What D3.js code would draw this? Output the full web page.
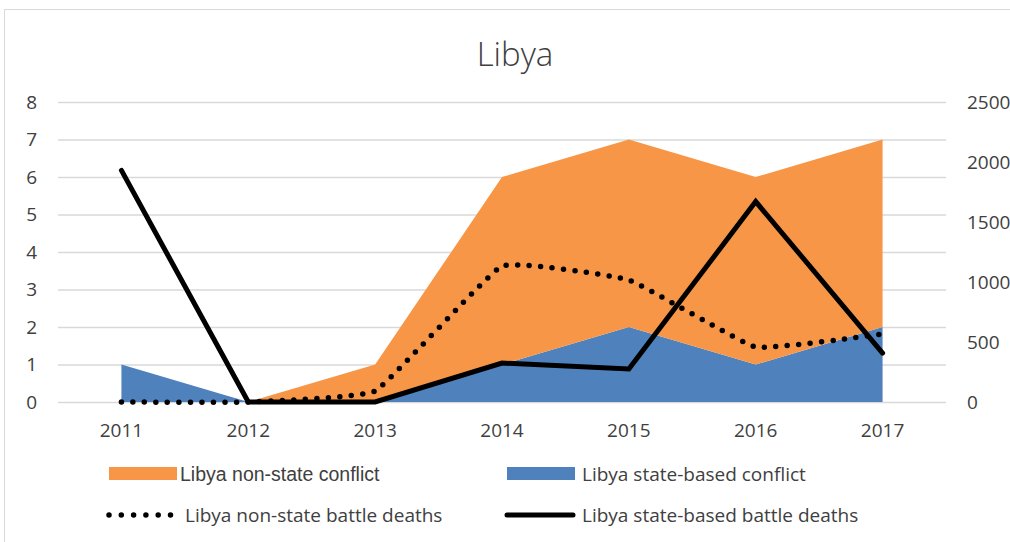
<!DOCTYPE html>
<html>
<head>
<meta charset="utf-8">
<script src="https://cdn.jsdelivr.net/npm/d3@7"></script>
<style>
  body { margin: 0; background: #fff; }
  svg text { fill: #404040; }
</style>
</head>
<body>
<div id="vis"></div>
<script>
// data
const YEARS = ["2011", "2012", "2013", "2014", "2015", "2016", "2017"];
const STATE_CONFLICT = [1, 0, 0, 1, 2, 1, 2];
const NONSTATE_CONFLICT = [0, 0, 1, 5, 5, 5, 5];
const STATE_DEATHS = [1930, 0, 0, 325, 275, 1670, 408];
const NONSTATE_DEATHS = [0, 0, 92, 1133, 1017, 458, 567];
const LEFT_TICKS = [0, 1, 2, 3, 4, 5, 6, 7, 8];
const RIGHT_TICKS = [0, 500, 1000, 1500, 2000, 2500];

const FRAME_WIDTH = 1010;
const FRAME_HEIGHT = 542;
const MARGINS = {left: 58, right: 64, top: 102, bottom: 140};
const FONT = "'Open Sans', 'Noto Sans', sans-serif";

const svg = d3.select("#vis")
  .append("svg")
    .attr("width", FRAME_WIDTH)
    .attr("height", FRAME_HEIGHT);

// chart border
svg.append("rect")
  .attr("x", 4.5).attr("y", 9.5)
  .attr("width", FRAME_WIDTH + 10).attr("height", FRAME_HEIGHT + 10)
  .attr("fill", "none").attr("stroke", "#d9d9d9");

const X_SCALE = d3.scaleBand()
  .domain(YEARS)
  .range([MARGINS.left, FRAME_WIDTH - MARGINS.right]);
const xc = (d) => X_SCALE(d) + X_SCALE.bandwidth() / 2;

const Y_LEFT = d3.scaleLinear().domain([0, 8]).range([FRAME_HEIGHT - MARGINS.bottom, MARGINS.top]);
const Y_RIGHT = d3.scaleLinear().domain([0, 2500]).range([FRAME_HEIGHT - MARGINS.bottom, MARGINS.top]);

// gridlines
svg.append("g")
  .attr("transform", "translate(" + MARGINS.left + ",0)")
  .call(d3.axisLeft(Y_LEFT).tickValues(LEFT_TICKS)
        .tickSize(-(FRAME_WIDTH - MARGINS.left - MARGINS.right)).tickFormat(""))
  .call(g => g.select(".domain").remove())
  .call(g => g.selectAll("line").attr("stroke", "#d9d9d9").attr("stroke-width", 1.3));

// stacked areas
const rows = YEARS.map((y, i) => ({year: y, state: STATE_CONFLICT[i], nonstate: NONSTATE_CONFLICT[i]}));
const stacked = d3.stack().keys(["state", "nonstate"])(rows);
const COLORS = {state: "#4f81bd", nonstate: "#f79646"};
const area = d3.area()
  .x(d => xc(d.data.year))
  .y0(d => Y_LEFT(d[0]))
  .y1(d => Y_LEFT(d[1]));

svg.selectAll(".area")
  .data(stacked)
  .enter()
  .append("path")
    .attr("d", area)
    .attr("fill", d => COLORS[d.key]);

// death lines on right axis
const deathLine = (curve) => d3.line()
  .x((d, i) => xc(YEARS[i]))
  .y(d => Y_RIGHT(d))
  .curve(curve);

svg.append("path")
  .attr("d", deathLine(d3.curveCardinal.tension(0.7))(NONSTATE_DEATHS))
  .attr("fill", "none").attr("stroke", "#000").attr("stroke-width", 5.5)
  .attr("stroke-linecap", "round").attr("stroke-dasharray", "0,11.5");

svg.append("path")
  .attr("d", deathLine(d3.curveLinear)(STATE_DEATHS))
  .attr("fill", "none").attr("stroke", "#000").attr("stroke-width", 5)
  .attr("stroke-linejoin", "miter").attr("stroke-linecap", "round");

// axes labels
const leftAxis = svg.append("g")
  .attr("transform", "translate(" + MARGINS.left + ",0)")
  .call(d3.axisLeft(Y_LEFT).tickValues(LEFT_TICKS).tickSize(0).tickPadding(21));
const rightAxis = svg.append("g")
  .attr("transform", "translate(" + (FRAME_WIDTH - MARGINS.right) + ",0)")
  .call(d3.axisRight(Y_RIGHT).tickValues(RIGHT_TICKS).tickSize(0).tickPadding(21).tickFormat(d3.format("d")));
const bottomAxis = svg.append("g")
  .attr("transform", "translate(0," + (FRAME_HEIGHT - MARGINS.bottom) + ")")
  .call(d3.axisBottom(X_SCALE).tickSize(0).tickPadding(22));

[leftAxis, rightAxis, bottomAxis].forEach(g => {
  g.select(".domain").remove();
  g.selectAll("text").attr("font-family", FONT).attr("font-size", "19px").attr("fill", "#404040");
});

// title
svg.append("text")
  .attr("x", 515).attr("y", 66)
  .attr("text-anchor", "middle")
  .attr("font-family", FONT).attr("font-weight", 300).attr("font-size", "33px")
  .attr("fill", "#404040")
  .text("Libya");

// legend
const LEGEND = [
  {label: "Libya non-state conflict", type: "rect", color: COLORS.nonstate, x: 109, y: 474, tx: 180, font: "'Liberation Sans', Arial, sans-serif", size: 19.5},
  {label: "Libya state-based conflict", type: "rect", color: COLORS.state, x: 507, y: 474, tx: 582, font: FONT, size: 19},
  {label: "Libya non-state battle deaths", type: "dots", x: 109, y: 515, tx: 185, font: FONT, size: 19},
  {label: "Libya state-based battle deaths", type: "line", x: 507, y: 515, tx: 582, font: FONT, size: 19}
];

LEGEND.forEach(d => {
  if (d.type === "rect") {
    svg.append("rect").attr("x", d.x).attr("y", d.y - 7).attr("width", 68).attr("height", 13).attr("fill", d.color);
  } else if (d.type === "dots") {
    svg.append("line").attr("x1", d.x).attr("x2", d.x + 62).attr("y1", d.y).attr("y2", d.y)
      .attr("stroke", "#000").attr("stroke-width", 5.5).attr("stroke-linecap", "round").attr("stroke-dasharray", "0,12.3");
  } else {
    svg.append("line").attr("x1", d.x).attr("x2", d.x + 66).attr("y1", d.y).attr("y2", d.y)
      .attr("stroke", "#000").attr("stroke-width", 5).attr("stroke-linecap", "round");
  }
  svg.append("text")
    .attr("x", d.tx).attr("y", d.y)
    .attr("dy", "0.35em")
    .attr("font-family", d.font).attr("font-size", d.size + "px")
    .attr("fill", "#404040")
    .text(d.label);
});
</script>
</body>
</html>
